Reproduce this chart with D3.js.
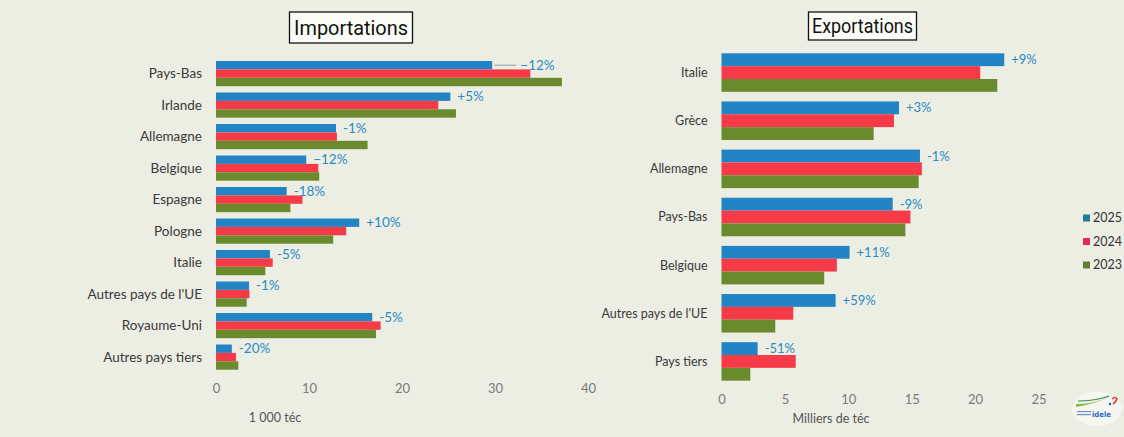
<!DOCTYPE html>
<html><head><meta charset="utf-8">
<script src="https://cdn.jsdelivr.net/npm/d3@7"></script>
<style>
html,body{margin:0;padding:0;background:#ecede3;}
svg{display:block;}
</style></head>
<body>
<svg id="chart" width="1124" height="437"></svg>
<script>
// ---- Data ----
const years = ["2025", "2024", "2023"];
const importCategories = ["Pays-Bas","Irlande","Allemagne","Belgique","Espagne","Pologne","Italie","Autres pays de l'UE","Royaume-Uni","Autres pays tiers"];
const import2025 = [29.7, 25.2, 12.9, 9.7, 7.6, 15.4, 5.8, 3.55, 16.8, 1.7];
const import2024 = [33.8, 23.9, 13.0, 11.0, 9.3, 14.0, 6.1, 3.6, 17.7, 2.15];
const import2023 = [37.2, 25.8, 16.3, 11.1, 8.0, 12.6, 5.3, 3.3, 17.2, 2.4];
const importLabels = ["\u221212%","+5%","-1%","\u221212%","-18%","+10%","-5%","-1%","-5%","-20%"];
const importTicks = [0, 10, 20, 30, 40];

const exportCategories = ["Italie","Grèce","Allemagne","Pays-Bas","Belgique","Autres pays de l'UE","Pays tiers"];
const export2025 = [22.3, 14.0, 15.65, 13.5, 10.1, 9.0, 2.85];
const export2024 = [20.4, 13.6, 15.8, 14.9, 9.1, 5.66, 5.85];
const export2023 = [21.75, 12.0, 15.55, 14.5, 8.1, 4.24, 2.27];
const exportLabels = ["+9%","+3%","-1%","-9%","+11%","+59%","-51%"];
const exportTicks = [0, 5, 10, 15, 20, 25];

const colors = {"2025":"#2283c5","2024":"#f63a48","2023":"#6b8a2d"};
const legendColors = {"2025":"#1d7f8f","2024":"#e8275a","2023":"#5f7f35"};
const labelColor = "#2b8cc4";
const FONT = "Lato, 'Noto Sans', sans-serif";

const svg = d3.select("#chart");
svg.append("rect").attr("width",1124).attr("height",437).attr("fill","#ecede3");

function panel(cfg){
  const g = svg.append("g");
  const x = d3.scaleLinear().domain(cfg.domain).range(cfg.xRange);
  const y = d3.scaleBand().domain(cfg.categories).range(cfg.yRange).paddingInner(0.2).paddingOuter(0.1);
  const sub = d3.scaleBand().domain(years).range([0, y.bandwidth()]);
  const series = {"2025":cfg.v25,"2024":cfg.v24,"2023":cfg.v23};

  cfg.categories.forEach((c,i)=>{
    years.forEach(yr=>{
      g.append("rect")
        .attr("x", x(0))
        .attr("y", y(c)+sub(yr))
        .attr("width", x(series[yr][i]) - x(0))
        .attr("height", sub.bandwidth())
        .attr("fill", colors[yr]);
    });
    g.append("text")
      .attr("x", x(0) - 14)
      .attr("y", y(c) + y.bandwidth()/2)
      .attr("dy","0.35em")
      .attr("text-anchor","end")
      .attr("font-family", FONT)
      .attr("font-size", cfg.catSize)
      .attr("fill","#3a3a3a")
      .text(c);
    const bx = x(cfg.v25[i]);
    const by = y(c) + sub("2025") + sub.bandwidth()/2;
    let lx = bx + 7;
    if (cfg.connector && i === 0){
      const rx = x(cfg.v24[i]);
      lx = rx - 10;
      g.append("line").attr("x1", bx+2).attr("x2", lx-4).attr("y1", by).attr("y2", by)
        .attr("stroke","#8aa0a8").attr("stroke-width",1);
    }
    g.append("text")
      .attr("x", lx)
      .attr("y", by)
      .attr("dy","0.35em")
      .attr("font-family", FONT)
      .attr("font-size", cfg.lblSize)
      .attr("fill", labelColor)
      .text(cfg.labels[i]);
  });

  const axis = d3.axisBottom(x).tickValues(cfg.ticks).tickSize(0).tickPadding(0);
  const ag = g.append("g").attr("transform", `translate(0,${cfg.axisY})`).call(axis);
  ag.select(".domain").remove();
  ag.selectAll("text").attr("font-family", FONT).attr("font-size", 13).attr("fill","#7a7a7a");

  g.append("text")
    .attr("x", cfg.axisTitleX).attr("y", cfg.axisTitleY)
    .attr("text-anchor","middle")
    .attr("font-family", FONT).attr("font-size", 12.5).attr("fill","#555")
    .text(cfg.axisTitle);

  // title box
  g.append("rect")
    .attr("x", cfg.titleX - cfg.boxW/2).attr("y", cfg.boxY)
    .attr("width", cfg.boxW).attr("height", cfg.boxH)
    .attr("fill","#fbfbf6").attr("stroke","#111").attr("stroke-width",1.3);
  g.append("text")
    .attr("x", cfg.titleX - cfg.textW/2).attr("y", cfg.boxY + cfg.boxH/2)
    .attr("dy","0.36em")
    .attr("font-family","Roboto, sans-serif")
    .attr("font-size", cfg.titleSize)
    .attr("textLength", cfg.textW)
    .attr("lengthAdjust","spacingAndGlyphs")
    .attr("fill","#111")
    .text(cfg.title);
}

panel({
  categories: importCategories, v25: import2025, v24: import2024, v23: import2023,
  labels: importLabels, ticks: importTicks, domain:[0,40], xRange:[216,588],
  yRange:[57.85, 372.85], catSize: 13.5, lblSize: 13.5, connector: true,
  axisY: 384, axisTitle: "1 000 téc", axisTitleX: 275, axisTitleY: 422,
  title: "Importations", titleX: 351, titleSize: 21, textW: 114, boxW: 123, boxH: 31, boxY: 12
});

panel({
  categories: exportCategories, v25: export2025, v24: export2024, v23: export2023,
  labels: exportLabels, ticks: exportTicks, domain:[0,25], xRange:[721.5,1038.5],
  yRange:[48.5, 385.5], catSize: 12.5, lblSize: 13, connector: false,
  axisY: 395, axisTitle: "Milliers de téc", axisTitleX: 831, axisTitleY: 423,
  title: "Exportations", titleX: 862.5, titleSize: 20, textW: 101, boxW: 108, boxH: 28, boxY: 12
});

// legend
const lg = svg.append("g");
years.forEach((yr,i)=>{
  const yy = 218 + i*23.5;
  lg.append("rect").attr("x",1083).attr("y",yy-3.5).attr("width",7).attr("height",7).attr("fill",legendColors[yr]);
  lg.append("text").attr("x",1093).attr("y",yy).attr("dy","0.35em")
    .attr("font-family",FONT).attr("font-size",12.5).attr("fill","#333").text(yr);
});

// logo (approximation)
const logo = svg.append("g");
logo.append("ellipse").attr("cx",1097).attr("cy",409).attr("rx",25).attr("ry",17).attr("fill","#f6f6f1");
logo.append("path").attr("d","M1076,404 Q1096,404 1113,395 Q1099,403 1076,407 Z").attr("fill","#8dbb3a");
logo.append("path").attr("d","M1078,401 Q1095,401 1109,396").attr("stroke","#2e8b57").attr("stroke-width",1.2).attr("fill","none");
logo.append("path").attr("d","M1112,399 q3,-3 5,0 q-1,3 -4,5").attr("stroke","#e23b3b").attr("stroke-width",1.6).attr("fill","none");
logo.append("circle").attr("cx",1110).attr("cy",404).attr("r",1.2).attr("fill","#2a5db0");
logo.append("text").attr("x",1092).attr("y",417).attr("font-family","'DejaVu Sans', sans-serif").attr("font-weight","bold")
  .attr("font-size",7.5).attr("textLength",19).attr("lengthAdjust","spacingAndGlyphs").attr("fill","#2a6cc0").text("idele");
logo.append("rect").attr("x",1077).attr("y",411).attr("width",14).attr("height",1.2).attr("fill","#6f8fc0");
logo.append("rect").attr("x",1077).attr("y",414).attr("width",14).attr("height",1.2).attr("fill","#6f8fc0");
</script>
</body></html>
